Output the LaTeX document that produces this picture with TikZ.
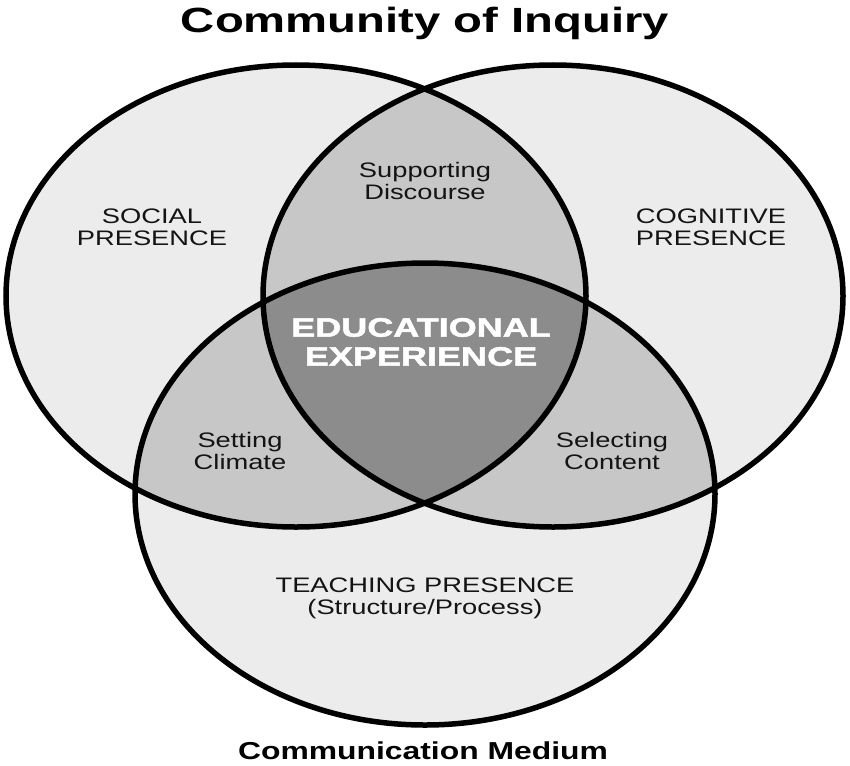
\documentclass[tikz,border=0pt]{standalone}
\usepackage{fontspec}
\setmainfont{Liberation Sans}[FakeStretch=1.3]
\newfontfamily\titlefont{Liberation Sans Bold}[FakeStretch=1.35]
\newfontfamily\medfont{Liberation Sans Bold}[FakeStretch=1.3]
\newfontfamily\heavyfont{Liberation Sans Bold}[FakeStretch=1.36,FakeBold=2]
\definecolor{lightg}{gray}{0.925}
\definecolor{midg}{gray}{0.78}
\definecolor{darkg}{gray}{0.55}
\definecolor{inkg}{gray}{0.08}
\begin{document}
\begin{tikzpicture}[x=1pt,y=-1pt,
  lab/.style={font=\fontsize{21}{22}\selectfont, align=center, text=inkg, inner sep=0pt},
  ring/.style={line width=5.5pt, draw=black}]
\useasboundingbox (0,0) rectangle (850,765);
\fill[white] (0,0) rectangle (850,765);
% base fills
\fill[lightg] (296,296) ellipse [x radius=290pt, y radius=231pt];
\fill[lightg] (553,296) ellipse [x radius=290pt, y radius=231pt];
\fill[lightg] (425,494) ellipse [x radius=290pt, y radius=231pt];
% pairwise overlaps
\begin{scope}
  \clip (296,296) ellipse [x radius=290pt, y radius=231pt];
  \fill[midg] (553,296) ellipse [x radius=290pt, y radius=231pt];
  \fill[midg] (425,494) ellipse [x radius=290pt, y radius=231pt];
\end{scope}
\begin{scope}
  \clip (553,296) ellipse [x radius=290pt, y radius=231pt];
  \fill[midg] (425,494) ellipse [x radius=290pt, y radius=231pt];
\end{scope}
% centre
\begin{scope}
  \clip (296,296) ellipse [x radius=290pt, y radius=231pt];
  \clip (553,296) ellipse [x radius=290pt, y radius=231pt];
  \fill[darkg] (425,494) ellipse [x radius=290pt, y radius=231pt];
\end{scope}
% outlines
\draw[ring] (296,296) ellipse [x radius=290pt, y radius=231pt];
\draw[ring] (553,296) ellipse [x radius=290pt, y radius=231pt];
\draw[ring] (425,494) ellipse [x radius=290pt, y radius=231pt];
% texts
\node[font=\titlefont\fontsize{35}{37}\selectfont, inner sep=0pt] (title) at (425,23) {Community of Inquiry};
\node[lab] (social) at (152,227) {SOCIAL\\PRESENCE};
\node[lab] (cognitive) at (711,227) {COGNITIVE\\PRESENCE};
\node[lab] (support) at (425,181) {Supporting\\Discourse};
\node[lab] (setting) at (240,451) {Setting\\Climate};
\node[lab] (selecting) at (612,451) {Selecting\\Content};
\node[lab] (teaching) at (425,598) {TEACHING PRESENCE\\(Structure/Process)};
\node[font=\heavyfont\fontsize{26.5}{29}\selectfont, align=center, text=white, inner sep=0pt] (edu) at (421,342) {EDUCATIONAL\\EXPERIENCE};
\node[font=\medfont\fontsize{24.5}{26}\selectfont, inner sep=0pt] (medium) at (423,751) {Communication Medium};
\end{tikzpicture}
\end{document}
